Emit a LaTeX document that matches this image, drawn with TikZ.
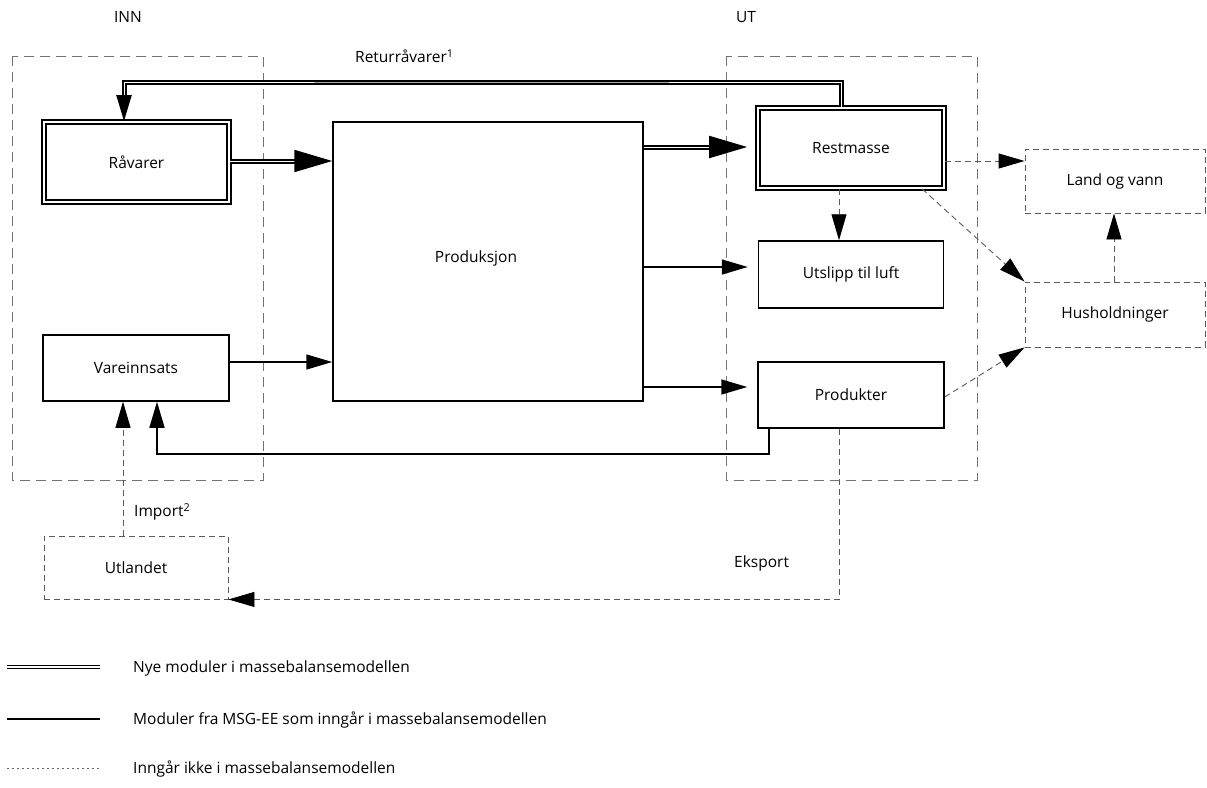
\documentclass[tikz,border=0pt]{standalone}
\usepackage{fontspec}
\setmainfont{Open Sans}
\usetikzlibrary{arrows.meta,calc}
\begin{document}
\begin{tikzpicture}[x=1pt,y=-1pt,
  font=\fontsize{15.5}{18}\selectfont,
  every node/.style={inner sep=0pt},
  box/.style={draw, line width=1.5pt},
  dblbox/.style={draw, double, line width=1.7pt, double distance=2.4pt},
  dbox/.style={draw=black!65, dash pattern=on 6pt off 4pt, line width=0.9pt},
  region/.style={draw=black!55, dash pattern=on 10pt off 6pt, line width=0.9pt},
  arr/.style={line width=1.5pt, -{Triangle[length=26pt,width=15pt]}},
  bigarr/.style={-{Triangle[length=38pt,width=22pt]}},
  dblline/.style={double, line width=2pt, double distance=1pt},
  darr/.style={draw=black!65, dash pattern=on 6pt off 4pt, line width=0.9pt,
     -{Triangle[length=26pt,width=15pt,color=black,fill=black]}},
  txt/.style={anchor=center}
]
\useasboundingbox (0,0) rectangle (1207,787);

% regions
\draw[region] (12,56) rectangle (263,480);
\draw[region] (726,56) rectangle (977,480);
\node[txt] (inn) at (128,17) {INN};
\node[txt] (ut) at (746,17) {UT};

% boxes
\node[dblbox, minimum width=185pt, minimum height=80pt] (rav) at (136.5,162) {Råvarer};
\node[box, minimum width=186pt, minimum height=66pt] (var) at (136,368) {Vareinnsats};
\node[box, minimum width=310pt, minimum height=279pt,
      label={[xshift=-12pt,yshift=3pt]center:Produksjon}] (prod) at (488,261.5) {};
\node[dblbox, minimum width=186pt, minimum height=80pt] (rest) at (851,148) {Restmasse};
\node[box, minimum width=185pt, minimum height=67pt] (utsl) at (851,274.5) {Utslipp til luft};
\node[box, minimum width=186pt, minimum height=66pt] (prodk) at (851,395) {Produkter};
\node[dbox, minimum width=180pt, minimum height=64pt] (land) at (1115,181) {Land og vann};
\node[dbox, minimum width=180pt, minimum height=65pt] (hus) at (1115,314.5) {Husholdninger};
\node[dbox, minimum width=184pt, minimum height=63pt] (utl) at (136,567.5) {Utlandet};

% labels
\node[anchor=west] (retlab) at (355,56) {Returråvarer\textsuperscript{1}};
\node[anchor=west] (implab) at (134,512) {Import\textsuperscript{2}};
\node[anchor=west] (ekslab) at (734,563) {Eksport};

% connectors
\coordinate (rety) at (500,82);
\draw[dblline, -{Triangle[length=26pt,width=15pt]}] (rest.north -| 841,0) |- (rety) -| (rav.north -| 124,0);
\draw[dblline, bigarr] (rav.east |- 0,161) -- (prod.west |- 0,161);
\draw[arr] (var.east |- 0,362) -- (prod.west |- 0,362);
\draw[dblline, bigarr, shorten >=10pt] (prod.east |- 0,147) -- (rest.west |- 0,147);
\draw[arr, shorten >=10pt] (prod.east |- 0,267) -- (utsl.west |- 0,267);
\draw[arr, shorten >=10pt] (prod.east |- 0,387) -- (prodk.west |- 0,387);
\coordinate (rety2) at (400,454);
\draw[arr] (prodk.south -| 769,0) |- (rety2) -| (var.south -| 157,0);

\draw[darr] (rest.south -| 839,0) -- (utsl.north -| 839,0);
\draw[darr] (rest.east |- 0,161) -- (land.west |- 0,161);
\draw[darr] (rest.south -| 922,0) -- (hus.north west);
\draw[darr] (prodk.east |- 0,397) -- (hus.south west);
\draw[darr] (hus.north -| 1114,0) -- (land.south -| 1114,0);
\draw[darr] (utl.north -| 123,0) -- (var.south -| 123,0);
\draw[darr] (prodk.south -| 839,0) |- (utl.south east);

% legend
\coordinate (l1a) at (7,667); \coordinate (l1b) at (100,667);
\coordinate (l2a) at (7,719); \coordinate (l2b) at (100,719);
\coordinate (l3a) at (7,768); \coordinate (l3b) at (100,768);
\draw[dblline, line width=1.8pt, double distance=1.2pt] (l1a) -- (l1b);
\draw[line width=2pt] (l2a) -- (l2b);
\draw[draw=black!60, line width=0.7pt, dash pattern=on 2pt off 3pt] (l3a) -- (l3b);
\node[anchor=west] (leg1) at (133,668) {Nye moduler i massebalansemodellen};
\node[anchor=west] (leg2) at (133,720) {Moduler fra MSG-EE som inngår i massebalansemodellen};
\node[anchor=west] (leg3) at (133,769) {Inngår ikke i massebalansemodellen};
\end{tikzpicture}
\end{document}
